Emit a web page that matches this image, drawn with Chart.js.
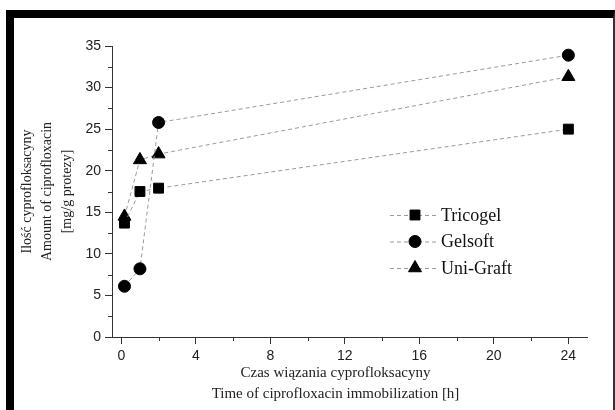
<!DOCTYPE html>
<html>
<head>
<meta charset="utf-8">
<script src="https://cdn.jsdelivr.net/npm/chart.js@4/dist/chart.umd.min.js"></script>
<style>
body{margin:0;background:#fff;overflow:hidden}
#wrap{position:relative;width:615px;height:410px}
#frame{position:absolute;left:6px;top:10px;width:609px;height:400px;box-sizing:border-box;border-top:8px solid #000;border-left:8px solid #000;border-right:2px solid #333;pointer-events:none}
</style>
</head>
<body>
<div id="wrap"><canvas id="chart" width="615" height="410"></canvas><div id="frame"></div></div>
<script>
// czas [h]
const times = [0.17, 1, 2, 24]
const tricogel = [13.7, 17.5, 17.9, 25.0]
const gelsoft = [6.1, 8.2, 25.8, 33.9]
const uniGraft = [14.5, 21.3, 22.0, 31.3]
const seriesNames = ["Tricogel", "Gelsoft", "Uni-Graft"]
const xTicks = [0, 4, 8, 12, 16, 20, 24]
const yTicks = [0, 5, 10, 15, 20, 25, 30, 35]
const xTitle = ["Czas wiązania cyprofloksacyny", "Time of ciprofloxacin immobilization [h]"]
const yTitle = ["Ilość cyprofloksacyny", "Amount of ciprofloxacin", "[mg/g protezy]"]

function toPoints(vals) {
    return vals.map(function (v, i) { return {x: times[i], y: v} })
}

function makeSet(label, vals, style, r) {
    return {
        label: label,
        data: toPoints(vals),
        borderColor: "#9a9a9a",
        borderWidth: 1,
        borderDash: [4, 3],
        pointStyle: style,
        pointRadius: r,
        pointBackgroundColor: "#000",
        pointBorderColor: "#000",
        pointBorderWidth: 1,
        tension: 0
    }
}

// krotkie podzialki w polowie miedzy glownymi
const minorTicks = {
    id: "minorTicks",
    afterDraw(chart) {
        const ctx = chart.ctx
        const xs = chart.scales.x, ys = chart.scales.y
        ctx.save()
        ctx.strokeStyle = "#333"
        ctx.lineWidth = 1
        ctx.beginPath()
        for (let i = 0; i < xTicks.length - 1; i++) {
            let px = Math.round(xs.getPixelForValue((xTicks[i] + xTicks[i + 1]) / 2)) + 0.5
            ctx.moveTo(px, ys.bottom)
            ctx.lineTo(px, ys.bottom + 4)
        }
        for (let i = 0; i < yTicks.length - 1; i++) {
            let py = Math.round(ys.getPixelForValue((yTicks[i] + yTicks[i + 1]) / 2)) + 0.5
            ctx.moveTo(xs.left, py)
            ctx.lineTo(xs.left - 4, py)
        }
        ctx.stroke()
        ctx.restore()
    }
}

const xTitlePlugin = {
    id: "xTitlePlugin",
    afterDraw(chart) {
        const ctx = chart.ctx
        const a = chart.chartArea
        ctx.save()
        ctx.fillStyle = "#222"
        ctx.font = '15px "Liberation Serif"'
        ctx.textAlign = "center"
        ctx.textBaseline = "middle"
        let cx = (a.left + a.right) / 2 - 14
        ctx.fillText(xTitle[0], cx, a.bottom + 36)
        ctx.fillText(xTitle[1], cx, a.bottom + 57)
        ctx.restore()
    }
}

const lineLegend = {
    id: "lineLegend",
    afterDraw(chart) {
        const ctx = chart.ctx
        const a = chart.chartArea
        ctx.save()
        chart.data.datasets.forEach(function (ds, i) {
            let y = a.top + 169 + i * 26.5
            let x0 = a.left + 278
            ctx.strokeStyle = ds.borderColor
            ctx.lineWidth = 1
            ctx.setLineDash(ds.borderDash)
            ctx.beginPath()
            ctx.moveTo(x0, y + 0.5)
            ctx.lineTo(x0 + 48, y + 0.5)
            ctx.stroke()
            ctx.setLineDash([])
            ctx.fillStyle = "#000"
            ctx.strokeStyle = "#000"
            Chart.helpers.drawPoint(ctx, {pointStyle: ds.pointStyle, radius: ds.pointRadius, rotation: 0, borderWidth: 1}, x0 + 25, y)
            ctx.fillStyle = "#111"
            ctx.font = '18px "Liberation Serif"'
            ctx.textAlign = "left"
            ctx.textBaseline = "middle"
            ctx.fillText(ds.label, x0 + 51, y + 1)
        })
        ctx.restore()
    }
}

Chart.defaults.color = "#222"

let ctx = document.getElementById("chart")
let chart = new Chart(ctx, {
    type: "line",
    data: {
        datasets: [
            makeSet(seriesNames[0], tricogel, "rect", 7),
            makeSet(seriesNames[1], gelsoft, "circle", 6),
            makeSet(seriesNames[2], uniGraft, "triangle", 7.5)
        ]
    },
    options: {
        responsive: false,
        animation: false,
        layout: {padding: {top: 46, right: 28, left: 0, bottom: 0}},
        plugins: {legend: {display: false}, tooltip: {enabled: false}},
        scales: {
            x: {
                type: "linear",
                min: -0.5,
                max: 25,
                afterBuildTicks: function (s) { s.ticks = xTicks.map(function (v) { return {value: v} }) },
                afterFit: function (s) { s.height = 73 },
                grid: {drawOnChartArea: false, drawTicks: true, tickLength: 7, color: "#333"},
                border: {display: true, color: "#333", width: 1},
                ticks: {font: {family: '"Liberation Sans"', size: 14}, padding: 4, maxRotation: 0}
            },
            y: {
                min: 0,
                max: 35,
                afterBuildTicks: function (s) { s.ticks = yTicks.map(function (v) { return {value: v} }) },
                afterFit: function (s) { s.width = 112 },
                grid: {drawOnChartArea: false, drawTicks: true, tickLength: 7, color: "#333"},
                border: {display: true, color: "#333", width: 1},
                ticks: {font: {family: '"Liberation Sans"', size: 14}, padding: 4},
                title: {
                    display: true,
                    text: yTitle,
                    font: {family: '"Liberation Serif"', size: 14, lineHeight: 1.4},
                    padding: {top: 18, bottom: 0}
                }
            }
        }
    },
    plugins: [minorTicks, xTitlePlugin, lineLegend]
})
</script>
</body>
</html>
